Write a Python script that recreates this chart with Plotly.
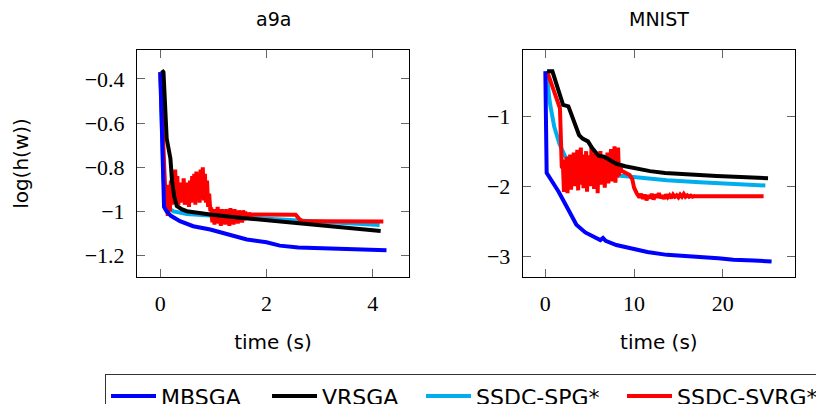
import plotly.graph_objects as go

# ---------------- data: a9a ----------------
a9a_mbsga_x = [0.0, 0.03, 0.05, 0.07, 0.12, 0.2, 0.37, 0.62, 0.94, 1.3, 1.63, 2.0, 2.25, 2.6, 3.2, 3.6, 4.26]
a9a_mbsga_y = [-0.37, -0.60, -0.85, -0.98, -1.0, -1.02, -1.044, -1.067, -1.082, -1.105, -1.127, -1.14, -1.155,
               -1.163, -1.169, -1.172, -1.176]

a9a_vrsga_x = [0.03, 0.06, 0.12, 0.17, 0.19, 0.22, 0.26, 0.31, 0.4, 0.5, 0.7, 0.94, 1.4, 1.88, 2.35, 2.82, 3.3,
               3.75, 4.15]
a9a_vrsga_y = [-0.36, -0.37, -0.67, -0.74, -0.76, -0.86, -0.93, -0.975, -0.99, -0.999, -1.007, -1.014, -1.026,
               -1.037, -1.048, -1.059, -1.069, -1.079, -1.089]

a9a_spg_x = [0.0, 0.03, 0.06, 0.1, 0.15, 0.25, 0.5, 1.0, 1.5, 2.0, 2.6, 3.2, 3.7, 4.13]
a9a_spg_y = [-0.37, -0.6, -0.85, -0.95, -0.985, -1.0, -1.012, -1.02, -1.027, -1.033, -1.04, -1.048, -1.055, -1.062]

a9a_svrg_x = [0.0, 0.04, 0.08, 0.10,
              0.12, 0.14, 0.16, 0.18, 0.20, 0.22, 0.24, 0.26, 0.28, 0.30, 0.32, 0.34, 0.36, 0.38, 0.40, 0.42,
              0.44, 0.46, 0.48, 0.50, 0.52, 0.54, 0.56, 0.58, 0.60, 0.62, 0.64, 0.66, 0.68, 0.70, 0.72, 0.74,
              0.76, 0.78, 0.80, 0.82, 0.84, 0.86, 0.88, 0.90, 0.92, 0.94,
              0.96, 0.98, 1.00, 1.02, 1.04, 1.06, 1.08, 1.10, 1.12, 1.14, 1.16, 1.18, 1.20, 1.22, 1.24, 1.26,
              1.28, 1.30, 1.32, 1.34, 1.36, 1.38, 1.40, 1.42, 1.44, 1.46, 1.48, 1.50, 1.52, 1.54, 1.56, 1.58,
              1.60, 1.62, 1.64, 1.66, 1.68, 1.70,
              1.75, 2.0, 2.3, 2.55, 2.62, 2.68, 3.0, 3.5, 4.2]
a9a_svrg_y = [-0.37, -0.6, -0.85, -0.95,
              -0.90, -1.02, -0.88, -1.00, -0.86, -0.97, -0.83, -0.96, -0.81, -0.95, -0.84, -0.97, -0.88, -0.96,
              -0.87, -0.95, -0.85, -0.97, -0.89, -0.96, -0.87, -0.98, -0.86, -0.96, -0.84, -0.95, -0.83, -0.97,
              -0.82, -0.95, -0.84, -0.96, -0.81, -0.94, -0.80, -0.95, -0.83, -0.96, -0.86, -0.98, -0.92, -0.99,
              -0.99, -1.05, -0.99, -1.06, -1.00, -1.04, -0.98, -1.055, -1.00, -1.065, -0.99, -1.045, -1.00,
              -1.06, -0.99, -1.05, -1.00, -1.065, -0.985, -1.045, -1.00, -1.06, -0.99, -1.05, -1.00, -1.055,
              -0.995, -1.04, -1.00, -1.05, -0.995, -1.04, -1.00, -1.035, -1.005, -1.03, -1.005, -1.025,
              -1.014, -1.014, -1.014, -1.015, -1.035, -1.044, -1.045, -1.045, -1.046]

# ---------------- data: MNIST ----------------
mn_mbsga_x = [0.0, 0.05, 0.1, 0.15, 0.5, 0.9, 1.5, 2.4, 3.5, 4.5, 5.5, 6.2, 6.5, 6.8, 8.0, 9.9, 11.5, 13.7,
              15.5, 17.4, 19.5, 21.2, 23.5, 25.5]
mn_mbsga_y = [-0.36, -1.0, -1.6, -1.81, -1.88, -1.955, -2.08, -2.29, -2.55, -2.66, -2.73, -2.77, -2.74, -2.78,
              -2.84, -2.9, -2.94, -2.98, -3.0, -3.01, -3.03, -3.05, -3.06, -3.075]

mn_vrsga_x = [0.2, 0.8, 1.4, 2.0, 2.6, 3.2, 3.8, 4.2, 4.8, 5.3, 6.0, 6.6, 7.2, 8.0, 9.0, 9.9, 11.8, 13.5, 15.6,
              19.3, 22.0, 25.1]
mn_vrsga_y = [-0.36, -0.36, -0.6, -0.84, -0.86, -1.05, -1.27, -1.32, -1.36, -1.46, -1.565, -1.58, -1.63, -1.68,
              -1.715, -1.74, -1.785, -1.81, -1.83, -1.855, -1.87, -1.885]

mn_spg_x = [0.1, 0.5, 1.0, 1.6, 2.2, 2.8, 4.0, 5.5, 7.0, 8.5, 9.9, 12.0, 13.7, 17.4, 21.0, 24.8]
mn_spg_y = [-0.36, -0.8, -1.15, -1.4, -1.57, -1.65, -1.72, -1.77, -1.81, -1.85, -1.87, -1.9, -1.915, -1.945,
            -1.97, -1.99]

mn_svrg_x = [0.2, 1.65, 1.85,
             2.0, 2.1, 2.2, 2.3, 2.4, 2.5, 2.6, 2.7, 2.8, 2.9, 3.0, 3.1, 3.2, 3.3, 3.4, 3.5, 3.6, 3.7, 3.8, 3.9,
             4.0, 4.1, 4.2, 4.3, 4.4, 4.5, 4.6, 4.7, 4.8, 4.9, 5.0, 5.1, 5.2, 5.3, 5.4, 5.5, 5.6, 5.7, 5.8, 5.9,
             6.0, 6.1, 6.2, 6.3, 6.4, 6.5, 6.6, 6.7, 6.8, 6.9, 7.0, 7.1, 7.2, 7.3, 7.4, 7.5, 7.6, 7.7, 7.8, 7.9,
             8.0, 8.1, 8.2, 8.3, 8.4,
             8.6, 9.0, 9.5, 9.8, 10.0, 10.3,
             10.4, 10.6, 10.8, 11.0, 11.2, 11.4, 11.6, 11.8, 12.0, 12.2, 12.4, 12.6, 12.8, 13.0, 13.2, 13.4,
             13.6, 13.8, 14.0, 14.2, 14.4, 14.6, 14.8, 15.0, 15.2, 15.4, 15.6, 15.8, 16.0, 16.2, 16.4, 16.6,
             16.8, 17.0,
             18.0, 20.0, 22.0, 24.6]
mn_svrg_y = [-0.36, -0.89, -1.72,
             -1.75, -2.08, -1.62, -2.02, -1.58, -2.10, -1.66, -1.96, -1.55, -2.05, -1.62, -1.92, -1.52, -2.0,
             -1.6, -1.95, -1.48, -2.06, -1.58, -1.9, -1.45, -1.98, -1.6, -2.03, -1.55, -1.93, -1.5, -2.08,
             -1.62, -1.95, -1.56, -2.0, -1.44, -1.92, -1.6, -2.04, -1.53, -1.9, -1.62, -2.1, -1.55, -1.95,
             -1.5, -1.98, -1.63, -1.9, -1.57, -2.02, -1.6, -1.92, -1.52, -1.96, -1.66, -1.88, -1.47, -1.93,
             -1.62, -1.9, -1.43, -1.95, -1.55, -1.88, -1.45, -1.85, -1.7,
             -1.78, -1.8, -1.84, -1.9, -2.02, -2.1,
             -2.12, -2.16, -2.11, -2.18, -2.12, -2.2, -2.13, -2.17, -2.11, -2.19, -2.12, -2.16, -2.1, -2.17,
             -2.13, -2.18, -2.12, -2.16, -2.13, -2.17, -2.12, -2.15, -2.13, -2.16, -2.12, -2.15, -2.11, -2.15,
             -2.13, -2.15, -2.135, -2.15, -2.14, -2.145,
             -2.145, -2.145, -2.145, -2.145]

# ---------------- ticks ----------------
a9a_xtick_vals = [0, 2, 4]
a9a_xtick_text = ["0", "2", "4"]
a9a_ytick_vals = [-1.2, -1.0, -0.8, -0.6, -0.4]
a9a_ytick_text = ["\u22121.2", "\u22121", "\u22120.8", "\u22120.6", "\u22120.4"]
mn_xtick_vals = [0, 10, 20]
mn_xtick_text = ["0", "10", "20"]
mn_ytick_vals = [-3, -2, -1]
mn_ytick_text = ["\u22123", "\u22122", "\u22121"]

names = ["MBSGA", "VRSGA", "SSDC-SPG*", "SSDC-SVRG*"]
colors = {"MBSGA": "#0000FF", "VRSGA": "#000000", "SSDC-SPG*": "#00AEEF", "SSDC-SVRG*": "#FF0000"}
ranks = {"MBSGA": 1, "VRSGA": 2, "SSDC-SPG*": 3, "SSDC-SVRG*": 4}
leg_w = {"MBSGA": 101, "VRSGA": 94, "SSDC-SPG*": 141, "SSDC-SVRG*": 160}

panels = [
    ("x", "y", {"MBSGA": (a9a_mbsga_x, a9a_mbsga_y), "VRSGA": (a9a_vrsga_x, a9a_vrsga_y),
                "SSDC-SPG*": (a9a_spg_x, a9a_spg_y), "SSDC-SVRG*": (a9a_svrg_x, a9a_svrg_y)}, True),
    ("x2", "y2", {"MBSGA": (mn_mbsga_x, mn_mbsga_y), "VRSGA": (mn_vrsga_x, mn_vrsga_y),
                  "SSDC-SPG*": (mn_spg_x, mn_spg_y), "SSDC-SVRG*": (mn_svrg_x, mn_svrg_y)}, False),
]

draw_order = ["SSDC-SPG*", "SSDC-SVRG*", "MBSGA", "VRSGA"]

fig = go.Figure()
for xa, ya, series, show in panels:
    for nm in draw_order:
        xs, ys = series[nm]
        fig.add_trace(go.Scatter(
            x=xs, y=ys, mode="lines", name=nm, xaxis=xa, yaxis=ya,
            line=dict(color=colors[nm], width=4),
            showlegend=show, legendrank=ranks[nm], legendwidth=leg_w[nm],
            hoverinfo="skip"))

tick_font = dict(family="Liberation Serif", size=22, color="black")
sans = "DejaVu Sans"
axis_common = dict(showline=True, mirror="allticks", linecolor="black", linewidth=1,
                   ticks="inside", ticklen=8, tickwidth=1, tickcolor="#666666",
                   showgrid=False, zeroline=False, tickfont=tick_font, ticklabelstandoff=7,
                   tickmode="array")

# the page body has an 8px margin, so the figure origin sits at (8, 8) on the page
fig.update_layout(
    width=824, height=404,
    margin=dict(l=129, r=37, t=42, b=134.5, autoexpand=False),
    plot_bgcolor="white", paper_bgcolor="white",
    xaxis=dict(domain=[0, 0.4134], range=[-0.439, 4.684], tickvals=a9a_xtick_vals, ticktext=a9a_xtick_text,
               title=dict(text="time (s)", font=dict(family=sans, size=20, color="black"), standoff=19),
               **axis_common),
    yaxis=dict(domain=[0, 1], range=[-1.297, -0.269], tickvals=a9a_ytick_vals, ticktext=a9a_ytick_text,
               title=dict(text="log(h(w))", font=dict(family=sans, size=20, color="black"), standoff=50),
               anchor="x", **axis_common),
    xaxis2=dict(domain=[0.5862, 1], range=[-2.548, 28.14], tickvals=mn_xtick_vals, ticktext=mn_xtick_text,
                title=dict(text="time (s)", font=dict(family=sans, size=20, color="black"), standoff=19),
                anchor="y2", **axis_common),
    yaxis2=dict(domain=[0, 1], range=[-3.296, -0.056], tickvals=mn_ytick_vals, ticktext=mn_ytick_text,
                anchor="x2", **axis_common),
    legend=dict(orientation="h", x=-0.0486, xanchor="left", y=-0.4284, yanchor="top",
                bordercolor="#333333", borderwidth=1, bgcolor="white",
                font=dict(family=sans, size=22, color="black"), itemwidth=45,
                traceorder="normal"),
    annotations=[
        dict(text="a9a", x=0.2067, y=1, xref="paper", yref="paper", xanchor="center", yanchor="bottom",
             yshift=18, showarrow=False, font=dict(family=sans, size=19, color="black")),
        dict(text="MNIST", x=0.7931, y=1, xref="paper", yref="paper", xanchor="center", yanchor="bottom",
             yshift=18, showarrow=False, font=dict(family=sans, size=19, color="black")),
    ],
)

fig.write_html("out.html")
